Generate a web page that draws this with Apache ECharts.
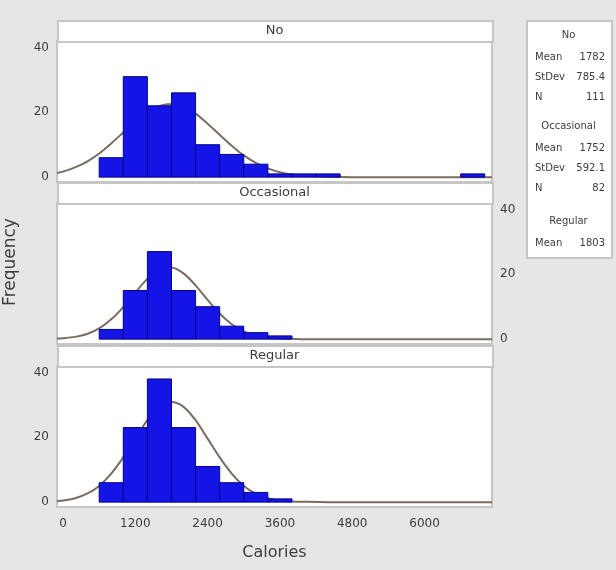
<!DOCTYPE html>
<html><head><meta charset="utf-8">
<script src="https://cdn.jsdelivr.net/npm/echarts@6/dist/echarts.min.js"></script>
<style>html,body{margin:0;padding:0;background:#e6e6e6}#c{width:616px;height:570px}</style>
</head><body><div id="c"></div>
<script>
// ---- data ----
const panelNames = ['No', 'Occasional', 'Regular'];
const binMidpoints = [800, 1200, 1600, 2000, 2400, 2800, 3200, 3600, 4000, 4400, 4800, 5200, 5600, 6000, 6400, 6800];
const noCounts         = [6, 31, 22, 26, 10, 7, 4, 1, 1, 1, 0, 0, 0, 0, 0, 1];
const occasionalCounts = [3, 15, 27, 15, 10, 4, 2, 1, 0, 0, 0, 0, 0, 0, 0, 0];
const regularCounts    = [6, 23, 38, 23, 11, 6, 3, 1, 0, 0, 0, 0, 0, 0, 0, 0];
const BIN_WIDTH = 400;
// fitted normal curves
const curveX        = [-100, 0, 200, 400, 600, 800, 1000, 1200, 1400, 1600, 1800, 2000, 2200, 2400, 2600, 2800, 3000, 3200, 3400, 3600, 3800, 4000, 4400, 4800, 7120];
const noFit         = [1.3, 1.7, 3.0, 4.8, 7.3, 10.4, 13.8, 17.2, 20.1, 22.0, 22.6, 21.7, 19.6, 16.5, 13.1, 9.7, 6.7, 4.4, 2.7, 1.5, 0.8, 0.4, 0.1, 0, 0];
const occasionalFit = [0.2, 0.3, 0.7, 1.6, 3.3, 6.1, 9.9, 14.4, 18.6, 21.5, 22.1, 20.3, 16.6, 12.1, 7.9, 4.6, 2.4, 1.1, 0.4, 0.2, 0.1, 0, 0, 0, 0];
const regularFit    = [0.3, 0.5, 1.2, 2.6, 5.0, 8.8, 13.8, 19.6, 25.3, 29.4, 30.9, 29.4, 25.3, 19.6, 13.8, 8.8, 5.0, 2.6, 1.2, 0.5, 0.2, 0.1, 0, 0, 0];
const xTickValues = [0, 1200, 2400, 3600, 4800, 6000];
const yTickValues = [0, 20, 40];
// legend box statistics (box is cut off after Regular's Mean)
const legendMean  = ['1782', '1752', '1803'];
const legendStDev = ['785.4', '592.1'];
const legendN     = ['111', '82'];

const countsByPanel = [noCounts, occasionalCounts, regularCounts];
const fitByPanel = [noFit, occasionalFit, regularFit];

// ---- layout ----
const FONT = 'DejaVu Sans';
const TXT = '#3c3c3c';
const BORDER = '#c6c6c6';
const gridLeft = 57, gridWidth = 435, gridHeight = 141;
const gridTops = [41, 203, 366];
const stripTops = [20, 182, 345];

const chart = echarts.init(document.getElementById('c'));

const grids = [], xAxes = [], yAxes = [], series = [], graphics = [];
for (let i = 0; i < 3; i++) {
  grids.push({left: gridLeft, width: gridWidth, top: gridTops[i], height: gridHeight,
    show: true, backgroundColor: '#ffffff', borderColor: BORDER, borderWidth: 2});
  xAxes.push({type: 'value', gridIndex: i, min: -100, max: 7120,
    splitLine: {show: false}, axisLine: {show: false}, axisTick: {show: false},
    axisLabel: {show: i === 2, customValues: xTickValues, formatter: v => String(v),
      color: TXT, fontSize: 12, fontFamily: FONT, margin: 11},
    name: i === 2 ? 'Calories' : '', nameLocation: 'middle', nameGap: 38,
    nameTextStyle: {color: TXT, fontSize: 16, fontFamily: FONT}});
  yAxes.push({type: 'value', gridIndex: i, min: -1.5, max: 42, position: i === 1 ? 'right' : 'left',
    splitLine: {show: false}, axisLine: {show: false}, axisTick: {show: false},
    axisLabel: {customValues: yTickValues, color: TXT, fontSize: 12, fontFamily: FONT, margin: 8}});
  series.push({type: 'line', xAxisIndex: i, yAxisIndex: i, z: 2,
    data: curveX.map((x, k) => [x, fitByPanel[i][k]]),
    smooth: 0.3, showSymbol: false, symbol: 'none', silent: true,
    lineStyle: {color: '#7b6c60', width: 2}});
  series.push({type: 'custom', xAxisIndex: i, yAxisIndex: i, z: 3,
    data: binMidpoints.map((m, k) => [m, countsByPanel[i][k]]),
    encode: {x: 0, y: 1},
    renderItem: function (params, api) {
      const mid = api.value(0), cnt = api.value(1);
      if (!cnt) return null;
      const p0 = api.coord([mid - BIN_WIDTH / 2, cnt]);
      const p1 = api.coord([mid + BIN_WIDTH / 2, 0]);
      return {type: 'rect',
        shape: {x: p0[0], y: p0[1], width: p1[0] - p0[0], height: p1[1] - p0[1]},
        style: {fill: '#1414e6', stroke: '#05058a', lineWidth: 1}};
    }});
  // strip
  graphics.push({type: 'rect', left: gridLeft, top: stripTops[i], z: 5,
    shape: {width: gridWidth, height: gridTops[i] - stripTops[i]},
    style: {fill: '#ffffff', stroke: BORDER, lineWidth: 2}});
  graphics.push({type: 'text', x: gridLeft + gridWidth / 2, y: stripTops[i] + (gridTops[i] - stripTops[i]) / 2, z: 6,
    style: {text: panelNames[i], fill: TXT, font: '13px ' + FONT, textAlign: 'center', textVerticalAlign: 'middle'}});
}

// y axis title
graphics.push({type: 'text', x: 11, y: 262, rotation: Math.PI / 2, z: 6,
  style: {text: 'Frequency', fill: TXT, font: '17px ' + FONT, textAlign: 'center', textVerticalAlign: 'middle'}});

// legend box
const boxX = 526, boxY = 20, boxW = 85, boxH = 237;
graphics.push({type: 'rect', left: boxX, top: boxY, z: 5, shape: {width: boxW, height: boxH},
  style: {fill: '#ffffff', stroke: BORDER, lineWidth: 2}});
const headerY = [35, 126, 221];
const rowOff = [22, 42, 62];
const lf = '10px ' + FONT;
for (let g = 0; g < 3; g++) {
  graphics.push({type: 'text', x: boxX + boxW / 2, y: headerY[g], z: 6,
    style: {text: panelNames[g], fill: TXT, font: lf, textAlign: 'center', textVerticalAlign: 'middle'}});
  const rows = [['Mean', legendMean[g]], ['StDev', legendStDev[g]], ['N', legendN[g]]];
  rows.forEach((r, k) => {
    if (r[1] === undefined) return;
    graphics.push({type: 'text', x: boxX + 9, y: headerY[g] + rowOff[k], z: 6,
      style: {text: r[0], fill: TXT, font: lf, textAlign: 'left', textVerticalAlign: 'middle'}});
    graphics.push({type: 'text', x: boxX + boxW - 6, y: headerY[g] + rowOff[k], z: 6,
      style: {text: r[1], fill: TXT, font: lf, textAlign: 'right', textVerticalAlign: 'middle'}});
  });
}

chart.setOption({
  backgroundColor: '#e6e6e6',
  animation: false,
  grid: grids, xAxis: xAxes, yAxis: yAxes, series: series, graphic: graphics
});
</script></body></html>
